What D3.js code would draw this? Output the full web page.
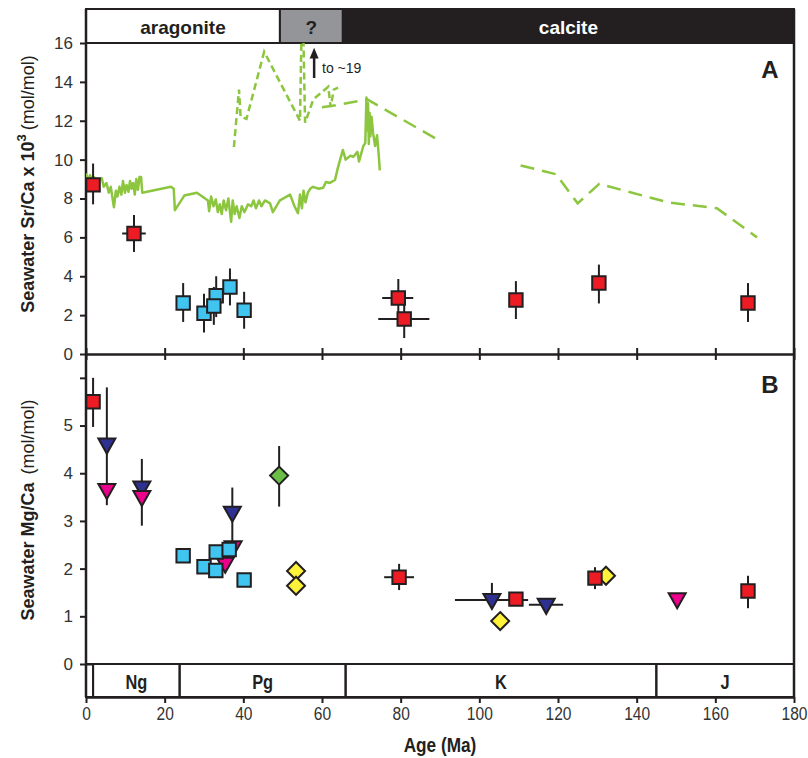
<!DOCTYPE html>
<html>
<head>
<meta charset="utf-8">
<script src="https://cdn.jsdelivr.net/npm/d3@7"></script>
<style>
  body { margin: 0; background: #fff; }
  svg { display: block; font-family: "Liberation Sans", Arial, sans-serif; }
</style>
</head>
<body>
<div class="chart"></div>
<script>
// ---- data ----
// seawater Sr/Ca record (solid green), [age Ma, Sr/Ca x1e3]
const srSolid = [
  [0,9.3],[0.5,8.9],[1,9.2],[1.5,9.0],[2,9.1],[3,8.9],[4,9.05],[4.5,8.6],[5.2,8.8],[5.8,8.3],
  [6.3,8.6],[7.1,7.55],[7.6,8.4],[8.0,8.1],[8.5,8.6],[9.0,8.2],[9.4,8.9],[9.9,8.3],[10.3,8.7],
  [10.8,8.35],[11.2,8.9],[11.6,8.5],[12.0,8.8],[12.4,8.2],[12.8,9.0],[13.2,8.45],[13.6,9.1],
  [14.0,9.1],[14.3,8.3],[21.6,8.6],[22.3,8.5],[22.6,7.4],[25.0,8.15],[28.2,8.3],[31.0,7.9],
  [31.3,7.35],[31.8,8.1],[32.4,7.6],[33.0,7.95],[33.5,7.3],[34.0,7.7],[34.5,7.2],[35.0,7.9],
  [35.6,7.4],[36.2,8.0],[36.6,7.3],[36.9,6.8],[37.3,7.9],[37.8,7.2],[38.3,7.6],[39.0,7.0],
  [39.6,7.6],[40.3,7.3],[41.2,7.7],[42.0,7.6],[42.6,7.9],[43.2,7.5],[44.0,7.9],[44.6,7.6],
  [45.5,7.9],[46.8,7.75],[47.5,7.3],[49.3,7.9],[51.9,8.2],[53.0,7.6],[53.9,7.25],[54.4,8.2],
  [54.9,7.5],[55.3,8.4],[55.8,7.8],[56.4,8.3],[57.0,8.5],[57.7,8.6],[59.2,8.5],[60.3,8.55],
  [61.0,8.85],[62.0,8.8],[63.3,8.95],[64.0,9.55],[65.3,10.5],[66.0,10.0],[67.2,10.2],[68.0,10.15],
  [69.0,10.4],[69.4,9.9],[70.5,10.7],[71.0,10.85],[71.3,13.2],[71.5,11.5],[71.7,12.9],[71.9,10.8],
  [72.1,12.4],[72.3,11.2],[72.6,12.2],[73.0,11.35],[73.5,10.7],[74.0,11.25],[74.4,10.3],[74.7,9.45]
];
// dashed model curves
const srDashShort = [
  [37.6,10.65],[38.9,13.6],[39.3,12.2],[40.8,12.1],[45.3,15.55],[54.4,12.0],[55.0,19],
  [55.7,11.9],[57.8,13.1],[61.6,13.75],[62.2,12.7],[63.0,13.6],[64.1,13.7]
];
const srDashLong1 = [[60.0,12.7],[63.5,12.8],[71.5,13.1],[90.5,10.9]];
const srDashLong2 = [[110.5,9.7],[119.5,9.25],[125.0,7.75],[130.5,8.75],[148.0,7.8],[160.4,7.5],[170.6,6.0]];

// Sr/Ca points: age, value, y-error low/high, x-error low/high
const srRed = [
  { age: 1.8, v: 8.7, yLo: 7.7, yHi: 9.8 },
  { age: 12.2, v: 6.2, yLo: 5.25, yHi: 7.15, xLo: 9.2, xHi: 15.2 },
  { age: 79.4, v: 2.88, yLo: 1.9, yHi: 3.86, xLo: 75.3, xHi: 83.2 },
  { age: 80.9, v: 1.8, yLo: 0.82, yHi: 2.8, xLo: 74.3, xHi: 87.3 },
  { age: 109.3, v: 2.78, yLo: 1.8, yHi: 3.75 },
  { age: 130.4, v: 3.65, yLo: 2.6, yHi: 4.6 },
  { age: 168.3, v: 2.62, yLo: 1.65, yHi: 3.65 }
];
const srBlue = [
  { age: 24.7, v: 2.62, yLo: 1.65, yHi: 3.65 },
  { age: 30.0, v: 2.1, yLo: 1.1, yHi: 3.1 },
  { age: 33.1, v: 3.0, yLo: 1.9, yHi: 4.0 },
  { age: 32.5, v: 2.47, yLo: 1.5, yHi: 3.45 },
  { age: 36.6, v: 3.45, yLo: 2.5, yHi: 4.4 },
  { age: 40.2, v: 2.25, yLo: 1.3, yHi: 3.2 }
];

// Mg/Ca points
const mgBlue = [
  { age: 24.7, v: 2.27 }, { age: 30.0, v: 2.04 }, { age: 33.0, v: 1.96 },
  { age: 33.1, v: 2.35 }, { age: 36.4, v: 2.4 }, { age: 40.2, v: 1.76 }
];
const mgNavy = [
  { age: 5.3, v: 4.6, yLo: 3.65, yHi: 5.8 },
  { age: 14.2, v: 3.7, yHi: 4.3 },
  { age: 37.2, v: 3.17, yLo: 2.45, yHi: 3.7 },
  { age: 103.2, v: 1.34, yHi: 1.7, xLo: 93.8, xHi: 112.4 },
  { age: 117.0, v: 1.24, xLo: 112.6, xHi: 121.3 }
];
const mgPink = [
  { age: 5.3, v: 3.65, yLo: 3.33 },
  { age: 14.2, v: 3.5, yLo: 2.9 },
  { age: 37.4, v: 2.45 },
  { age: 35.4, v: 2.1 },
  { age: 150.3, v: 1.36 }
];
const mgGreen = [{ age: 49.1, v: 3.95, yLo: 3.3, yHi: 4.57 }];
const mgYellow = [
  { age: 53.4, v: 1.95 }, { age: 53.4, v: 1.64 }, { age: 105.3, v: 0.9 }, { age: 132.2, v: 1.85 }
];
const mgRed = [
  { age: 1.8, v: 5.5, yLo: 4.97, yHi: 6.0 },
  { age: 79.6, v: 1.82, yLo: 1.55, yHi: 2.1, xLo: 75.8, xHi: 83.4 },
  { age: 109.3, v: 1.36 },
  { age: 129.4, v: 1.8, yLo: 1.57, yHi: 2.03 },
  { age: 168.3, v: 1.53, yLo: 1.17, yHi: 1.85 }
];

const mineralNames = ["aragonite", "?", "calcite"];
const mineralBounds = [0, 49.3, 65.3, 180];
const periodNames = ["", "Ng", "Pg", "K", "J"];
const periodBounds = [0, 1.8, 23.8, 66, 145, 180];
const xTicks = [0, 20, 40, 60, 80, 100, 120, 140, 160, 180];
const srTicks = [0, 2, 4, 6, 8, 10, 12, 14, 16];
const mgTicks = [0, 1, 2, 3, 4, 5, 6];

// ---- layout ----
const W = 808, H = 758;
const ink = "#231f20";
const green = "#8cc63f";
const narrow = 0.82;   // horizontal squeeze for the condensed labels

const x = d3.scaleLinear().domain([0, 180]).range([86, 794]);
const yA = d3.scaleLinear().domain([0, 16]).range([354, 43]);
const yB = d3.scaleLinear().domain([0, 6.5]).range([664, 354]);
const bandTop = 9, bandBottom = 43, perTop = 664, perBottom = 697;

const svg = d3.select(".chart").append("svg")
    .attr("width", W).attr("height", H);

svg.append("defs").append("clipPath").attr("id", "clipA")
  .append("rect").attr("x", x(0)).attr("y", yA(16)).attr("width", x(180) - x(0)).attr("height", yA(0) - yA(16));

// top mineral band
const mineralFill = ["#fff", "#939598", ink];
const mineralText = [ink, ink, "#fff"];
const mb = svg.append("g");
mineralNames.forEach(function(n, i) {
  mb.append("rect")
    .attr("x", x(mineralBounds[i])).attr("y", bandTop)
    .attr("width", x(mineralBounds[i + 1]) - x(mineralBounds[i]))
    .attr("height", bandBottom - bandTop)
    .attr("fill", mineralFill[i]).attr("stroke", ink).attr("stroke-width", 2);
  mb.append("text")
    .attr("x", (x(mineralBounds[i]) + x(mineralBounds[i + 1])) / 2)
    .attr("y", 34).attr("text-anchor", "middle")
    .attr("font-size", 19).attr("font-weight", "bold")
    .attr("fill", mineralText[i]).text(n);
});

// bottom period band
const pb = svg.append("g");
periodNames.forEach(function(n, i) {
  pb.append("rect")
    .attr("x", x(periodBounds[i])).attr("y", perTop)
    .attr("width", x(periodBounds[i + 1]) - x(periodBounds[i]))
    .attr("height", perBottom - perTop)
    .attr("fill", "none").attr("stroke", ink).attr("stroke-width", 2);
  pb.append("text")
    .attr("transform", `translate(${(x(periodBounds[i]) + x(periodBounds[i + 1])) / 2},689) scale(${narrow},1)`)
    .attr("text-anchor", "middle")
    .attr("font-size", 20).attr("font-weight", "bold")
    .attr("fill", ink).text(n);
});

// frame lines
svg.append("line").attr("x1", x(180)).attr("x2", x(180)).attr("y1", bandTop).attr("y2", perBottom)
  .attr("stroke", ink).attr("stroke-width", 2.5);

// axes
function styleAxis(g) {
  g.select(".domain").attr("stroke", ink).attr("stroke-width", 2.5);
  g.selectAll(".tick line").attr("stroke", ink).attr("stroke-width", 2);
  g.selectAll(".tick text").attr("fill", "#333").attr("font-size", 17)
    .attr("font-family", "'Liberation Sans', Arial, sans-serif");
}

const axA = svg.append("g").attr("transform", `translate(${x(0)},0)`)
  .call(d3.axisLeft(yA).tickValues(srTicks).tickSize(6).tickPadding(7).tickSizeOuter(0));
styleAxis(axA);
axA.select(".domain").attr("d", `M0,${bandTop}V${yA(0)}`);

const axB = svg.append("g").attr("transform", `translate(${x(0)},0)`)
  .call(d3.axisLeft(yB).tickValues(mgTicks).tickSize(6).tickPadding(7).tickSizeOuter(0)
    .tickFormat(d => d === 6 ? "" : d));
styleAxis(axB);
axB.select(".domain").attr("d", `M0,${yB(6.5)}V${perBottom}`);
axB.selectAll(".tick").filter(d => d === 0).select("line").attr("x1", 6);

// middle axis (shared between panels), crossing ticks
const axMid = svg.append("g").attr("transform", `translate(0,${yA(0)})`)
  .call(d3.axisBottom(x).tickValues(xTicks).tickSize(6).tickFormat("").tickSizeOuter(0));
styleAxis(axMid);
axMid.selectAll(".tick line").attr("y1", -6);

const axBot = svg.append("g").attr("transform", `translate(0,${perBottom})`)
  .call(d3.axisBottom(x).tickValues(xTicks).tickSize(6).tickPadding(4).tickSizeOuter(0));
styleAxis(axBot);
axBot.selectAll(".tick text").attr("font-size", 19).attr("transform", `scale(${narrow},1)`);

svg.append("text")
  .attr("transform", `translate(${(x(0) + x(180)) / 2},752) scale(${narrow},1)`)
  .attr("text-anchor", "middle")
  .attr("font-size", 21).attr("font-weight", "bold").attr("fill", ink).text("Age (Ma)");

// y labels
const labA = svg.append("text")
  .attr("transform", "translate(34,184) rotate(-90)")
  .attr("text-anchor", "middle").attr("font-size", 18).attr("fill", ink);
labA.append("tspan").attr("font-weight", "bold").text("Seawater Sr/Ca x 10");
labA.append("tspan").attr("font-weight", "bold").attr("font-size", 13).attr("dy", -8).text("3");
labA.append("tspan").attr("dy", 8).attr("dx", 4).text("(mol/mol)");

const labB = svg.append("text")
  .attr("transform", "translate(34,510) rotate(-90)")
  .attr("text-anchor", "middle").attr("font-size", 18).attr("fill", ink);
labB.append("tspan").attr("font-weight", "bold").text("Seawater Mg/Ca");
labB.append("tspan").attr("dx", 8).text("(mol/mol)");

// panel letters
svg.append("text").attr("x", 770).attr("y", 78).attr("text-anchor", "middle")
  .attr("font-size", 24).attr("font-weight", "bold").attr("fill", ink).text("A");
svg.append("text").attr("x", 770).attr("y", 393).attr("text-anchor", "middle")
  .attr("font-size", 24).attr("font-weight", "bold").attr("fill", ink).text("B");

// ---- panel A lines ----
const lineA = d3.line().x(d => x(d[0])).y(d => yA(d[1]));
const gA = svg.append("g").attr("clip-path", "url(#clipA)");
gA.append("path").datum(srDashShort).attr("d", lineA)
  .attr("fill", "none").attr("stroke", green).attr("stroke-width", 2.5).attr("stroke-dasharray", "7,4");
gA.append("path").datum(srDashLong1).attr("d", lineA)
  .attr("fill", "none").attr("stroke", green).attr("stroke-width", 2.5).attr("stroke-dasharray", "14,8");
gA.append("path").datum(srDashLong2).attr("d", lineA)
  .attr("fill", "none").attr("stroke", green).attr("stroke-width", 2.5).attr("stroke-dasharray", "14,8");
gA.append("path").datum(srSolid).attr("d", lineA)
  .attr("fill", "none").attr("stroke", green).attr("stroke-width", 2.5).attr("stroke-linejoin", "round");

// arrow "to ~19"
svg.append("line").attr("x1", x(58)).attr("x2", x(58)).attr("y1", yA(14.2)).attr("y2", yA(15.3))
  .attr("stroke", ink).attr("stroke-width", 2.5);
svg.append("path")
  .attr("d", `M${x(58) - 4.5},${yA(15.2)}L${x(58)},${yA(15.75)}L${x(58) + 4.5},${yA(15.2)}Z`)
  .attr("fill", ink);
svg.append("text").attr("x", x(60)).attr("y", yA(14.7) + 5).attr("font-size", 14)
  .attr("fill", ink).text("to ~19");

// ---- markers ----
function errBars(g, data, y) {
  data.forEach(function(d) {
    if (d.yLo !== undefined || d.yHi !== undefined) {
      g.append("line").attr("x1", x(d.age)).attr("x2", x(d.age))
        .attr("y1", y(d.yLo !== undefined ? d.yLo : d.v)).attr("y2", y(d.yHi !== undefined ? d.yHi : d.v))
        .attr("stroke", ink).attr("stroke-width", 2);
    }
    if (d.xLo !== undefined) {
      g.append("line").attr("x1", x(d.xLo)).attr("x2", x(d.xHi))
        .attr("y1", y(d.v)).attr("y2", y(d.v))
        .attr("stroke", ink).attr("stroke-width", 2);
    }
  });
}
const sym = {
  square: d3.symbol().type(d3.symbolSquare).size(180),
  diamond: "M0,-9L9,0L0,9L-9,0Z",
  tri: "M-8.5,-6L8.5,-6L0,9Z"
};
function markers(g, data, y, shape, fill) {
  g.selectAll(null).data(data).enter().append("path")
    .attr("transform", d => `translate(${x(d.age)},${y(d.v)})`)
    .attr("d", typeof shape === "string" ? shape : shape())
    .attr("fill", fill).attr("stroke", ink).attr("stroke-width", 2);
}

const mA = svg.append("g");
errBars(mA, srRed, yA); markers(mA, srRed, yA, sym.square, "#ed1c24");
errBars(mA, srBlue, yA); markers(mA, srBlue, yA, sym.square, "#40c4f0");

const mB = svg.append("g");
errBars(mB, mgNavy, yB);
errBars(mB, mgPink, yB);
errBars(mB, mgGreen, yB);
errBars(mB, mgRed, yB);
markers(mB, mgPink.slice(2, 3), yB, sym.tri, "#ec008c");
markers(mB, mgNavy, yB, sym.tri, "#2e3192");
markers(mB, mgPink.filter((d, i) => i !== 2), yB, sym.tri, "#ec008c");
markers(mB, mgBlue, yB, sym.square, "#40c4f0");
markers(mB, mgGreen, yB, sym.diamond, "#6abd45");
markers(mB, mgYellow, yB, sym.diamond, "#fff23a");
markers(mB, mgRed, yB, sym.square, "#ed1c24");
</script>
</body>
</html>
